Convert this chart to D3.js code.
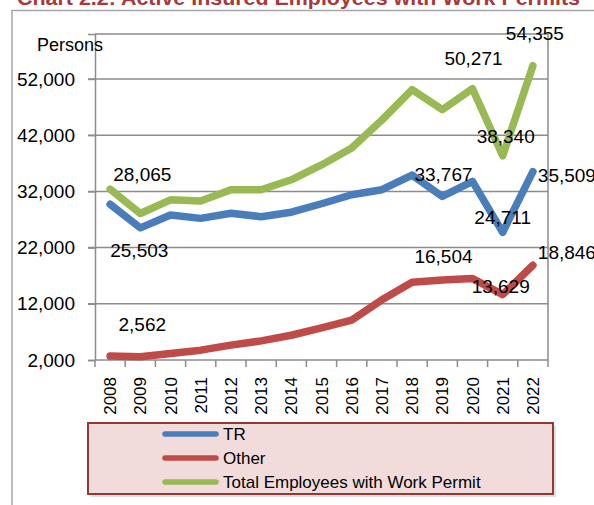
<!DOCTYPE html>
<html>
<head>
<meta charset="utf-8">
<script src="https://cdn.jsdelivr.net/npm/d3@7"></script>
<style>
  body { margin: 0; background: #fff; }
  svg { display: block; font-family: "Liberation Sans", Arial, sans-serif; }
</style>
</head>
<body>
<svg id="chart" width="594" height="505"></svg>
<script>
// data
const years = ["2008", "2009", "2010", "2011", "2012", "2013", "2014", "2015", "2016", "2017", "2018", "2019", "2020", "2021", "2022"];
const tr = [29700, 25503, 27800, 27200, 28100, 27500, 28300, 29800, 31400, 32300, 34900, 31100, 33767, 24711, 35509];
const other = [2700, 2562, 3150, 3750, 4650, 5400, 6400, 7700, 9100, 12700, 15850, 16250, 16504, 13629, 18846];
const total = [32400, 28065, 30500, 30300, 32280, 32300, 34060, 36700, 39700, 44700, 50090, 46530, 50271, 38340, 54355];
const yTicks = [2000, 12000, 22000, 32000, 42000, 52000];
const seriesNames = ["TR", "Other", "Total Employees with Work Permit"];
// values shown as labels: [series index, year]
const labelled = [[2, "2009"], [0, "2009"], [1, "2009"], [2, "2022"], [2, "2020"], [2, "2021"], [0, "2020"], [0, "2022"], [0, "2021"], [1, "2020"], [1, "2021"], [1, "2022"]];

const colors = ["#4a7ebb", "#be4b48", "#98b954"];
const seriesData = [tr, other, total];

const svg = d3.select("#chart");
const margin = { left: 95, right: 548, top: 34, bottom: 360 };

const x = d3.scaleBand().domain(years).range([margin.left, margin.right]);
const y = d3.scaleLinear().domain([2000, 60000]).range([margin.bottom, margin.top]);

// title (cut off at the top)
svg.append("text")
  .attr("x", 17)
  .attr("y", 5)
  .attr("fill", "#a8383a")
  .attr("font-weight", "bold")
  .attr("font-size", 20)
  .attr("textLength", 563)
  .attr("lengthAdjust", "spacingAndGlyphs")
  .text("Chart 2.2: Active Insured Employees with Work Permits");

// outer chart border
svg.append("path")
  .attr("d", "M12,505 V10.5 H594")
  .attr("fill", "none")
  .attr("stroke", "#a6a6a6")
  .attr("stroke-width", 1.5);

// gridlines
svg.append("g")
  .selectAll("line")
  .data(yTicks.slice(1))
  .join("line")
  .attr("x1", margin.left - 7)
  .attr("x2", margin.right)
  .attr("y1", (d) => y(d))
  .attr("y2", (d) => y(d))
  .attr("stroke", "#8c8c8c")
  .attr("stroke-width", 1.5);

// plot frame top / right
svg.append("path")
  .attr("d", `M${margin.left},${margin.top} H${margin.right} V${margin.bottom}`)
  .attr("fill", "none")
  .attr("stroke", "#8c8c8c")
  .attr("stroke-width", 1.5);

// y axis
const yAxis = svg.append("g")
  .attr("transform", `translate(${margin.left},0)`)
  .call(d3.axisLeft(y).tickValues(yTicks).tickFormat(d3.format(",")).tickSize(7).tickPadding(13));
yAxis.select(".domain").attr("stroke", "#8c8c8c").attr("stroke-width", 1.5);
yAxis.selectAll(".tick line").attr("stroke", "#8c8c8c").attr("stroke-width", 1.5);
yAxis.selectAll(".tick text")
  .attr("font-size", 19)
  .attr("font-family", "Liberation Sans, Arial, sans-serif")
  .attr("fill", "#000");

svg.append("text")
  .attr("x", 37)
  .attr("y", 51)
  .attr("font-size", 18)
  .text("Persons");

// x axis: ticks between categories
const xAxis = svg.append("g").attr("transform", `translate(0,${margin.bottom})`);
xAxis.append("line")
  .attr("x1", margin.left)
  .attr("x2", margin.right)
  .attr("stroke", "#8c8c8c")
  .attr("stroke-width", 1.5);
const bounds = years.map((d) => x(d)).concat([margin.right]);
xAxis.selectAll(".xtick")
  .data(bounds)
  .join("line")
  .attr("class", "xtick")
  .attr("x1", (d) => d)
  .attr("x2", (d) => d)
  .attr("y1", 0)
  .attr("y2", 7)
  .attr("stroke", "#8c8c8c")
  .attr("stroke-width", 1.5);
xAxis.selectAll(".xlabel")
  .data(years)
  .join("text")
  .attr("class", "xlabel")
  .attr("transform", (d) => `translate(${x(d) + x.bandwidth() / 2},17) rotate(-90)`)
  .attr("text-anchor", "end")
  .attr("dy", "0.36em")
  .attr("font-size", 17)
  .text((d) => d);

// lines
const line = d3.line()
  .x((d, i) => x(years[i]) + x.bandwidth() / 2)
  .y((d) => y(d));

svg.append("g")
  .selectAll("path")
  .data(seriesData)
  .join("path")
  .attr("d", (d) => line(d))
  .attr("fill", "none")
  .attr("stroke", (d, i) => colors[i])
  .attr("stroke-width", 7.5)
  .attr("stroke-linejoin", "round")
  .attr("stroke-linecap", "round");

// data labels, nudged like the hand-placed ones in the original
const nudge = {
  "2-2009": [2, -32], "0-2009": [-1, 29], "1-2009": [2, -26],
  "2-2022": [2, -26], "2-2020": [1, -24], "2-2021": [3, -13],
  "0-2020": [-29, 0], "0-2022": [34, 10], "0-2021": [0, -8],
  "1-2020": [-29, -15], "1-2021": [-2, -2], "1-2022": [34, -6]
};
svg.append("g")
  .selectAll("text")
  .data(labelled)
  .join("text")
  .attr("x", (d) => x(d[1]) + x.bandwidth() / 2 + nudge[d[0] + "-" + d[1]][0])
  .attr("y", (d) => y(seriesData[d[0]][years.indexOf(d[1])]) + nudge[d[0] + "-" + d[1]][1])
  .attr("text-anchor", "middle")
  .attr("font-size", 19)
  .text((d) => d3.format(",")(seriesData[d[0]][years.indexOf(d[1])]));

// legend
const legend = svg.append("g");
legend.append("rect")
  .attr("x", 91)
  .attr("y", 426)
  .attr("width", 465)
  .attr("height", 71)
  .attr("fill", "#000")
  .attr("opacity", 0.12);
legend.append("rect")
  .attr("x", 88)
  .attr("y", 423)
  .attr("width", 465)
  .attr("height", 71)
  .attr("fill", "#f2dcdb")
  .attr("stroke", "#953735")
  .attr("stroke-width", 2);

const items = legend.selectAll(".item")
  .data(seriesNames)
  .join("g")
  .attr("class", "item")
  .attr("transform", (d, i) => `translate(0,${434 + i * 24})`);
items.append("line")
  .attr("x1", 165)
  .attr("x2", 216)
  .attr("stroke", (d, i) => colors[i])
  .attr("stroke-width", 5.5)
  .attr("stroke-linecap", "round");
items.append("text")
  .attr("x", 223)
  .attr("dy", "0.36em")
  .attr("font-size", 17)
  .text((d) => d);
</script>
</body>
</html>
